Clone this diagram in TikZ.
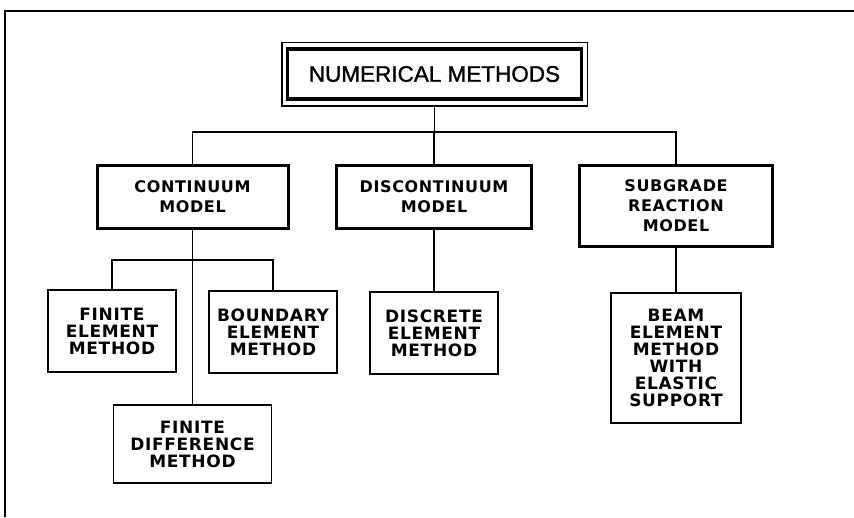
\documentclass[tikz,border=0pt]{standalone}
\usepackage{fontspec}
\setmainfont{DejaVu Sans}
\newfontfamily\titlefont[FakeBold=1.3]{Liberation Sans}
\newfontfamily\boxfont[LetterSpace=4]{DejaVu Sans}
\usepackage{tikz}
\usetikzlibrary{fit,positioning,calc}
\tikzset{
	link/.style={line width=1.3pt, black},
}
\tikzstyle{mbox} = [rectangle, draw=black, line width=3pt, align=center, inner sep=2pt, font=\boxfont\bfseries\fontsize{16}{20}\selectfont]
\tikzstyle{tbox} = [rectangle, draw=black, line width=1.8pt, align=center, inner sep=2pt, minimum width=128pt, minimum height=82pt, font=\boxfont\bfseries\fontsize{17}{17}\selectfont]

\begin{document}
\begin{tikzpicture}[x=1pt, y=-1pt]
	\useasboundingbox (0,0) rectangle (854,517);
	% page edge of the scan
	\draw[line width=2.2pt] (854,11) -- (5,11) -- (5,517);
	
	\node[draw, line width=3.5pt, minimum width=294pt, minimum height=50pt, font=\titlefont\fontsize{22.5}{26}\selectfont] (nm) at (434.5,74) {NUMERICAL METHODS};
	\node[fit=(nm), draw, line width=1.5pt, inner xsep=4pt, inner ysep=5pt] (nmframe) {};
	
	\node[mbox, minimum width=191pt, minimum height=63pt] (cm) at (192.5,196.5) {CONTINUUM\\MODEL};
	\node[mbox, minimum width=195pt, minimum height=63pt] (dm) at (434,196.5) {DISCONTINUUM\\MODEL};
	\node[mbox, minimum width=193pt, minimum height=81pt] (sm) at (676,205.5) {SUBGRADE\\REACTION\\MODEL};
	\coordinate (j1) at (434.5,132);
	\draw[link] (nmframe) -- (j1);
	\foreach \n in {cm,dm,sm}
	\draw[link] (j1) -| (\n);
	
	\node[tbox] (fem) at (112,331) {FINITE\\ELEMENT\\METHOD};
	\node[tbox] (bem) at (273,332) {BOUNDARY\\ELEMENT\\METHOD};
	\node[tbox, minimum width=158pt, minimum height=78pt] (fdm) at (192.5,444) {FINITE\\DIFFERENCE\\METHOD};
	\coordinate (j2) at (192.5,260);
	\draw[link] (cm) -- (fdm);
	\foreach \n in {fem,bem}
	\draw[link] (j2) -| (\n);
	
	\node[tbox] (dem) at (434,333) {DISCRETE\\ELEMENT\\METHOD};
	\path (dm) edge [link] (dem);
	\node[tbox, minimum width=130pt, minimum height=130pt] (bm) at (676,358) {BEAM\\ELEMENT\\METHOD\\WITH\\ELASTIC\\SUPPORT};
	\path (sm) edge [link] (bm);
\end{tikzpicture}
\end{document}
